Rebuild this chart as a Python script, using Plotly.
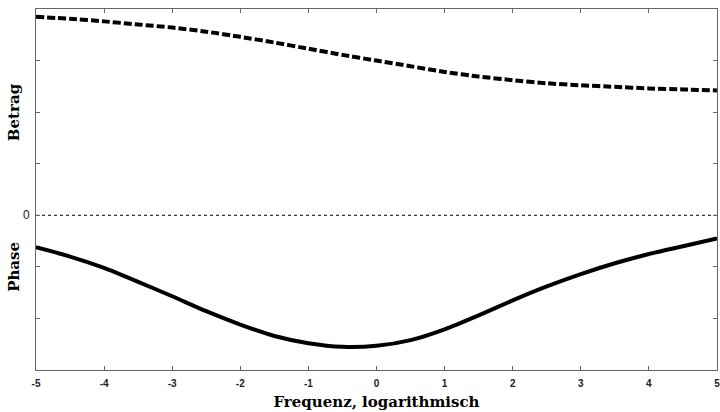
import plotly.graph_objects as go

# Logarithmic frequency axis positions
freq_log = [-5, -4.5, -4, -3.5, -3, -2.5, -2, -1.5, -1, -0.5, 0,
            0.5, 1, 1.5, 2, 2.5, 3, 3.5, 4, 4.5, 5]

# Magnitude (Betrag) curve values
betrag = [3.85, 3.81, 3.76, 3.70, 3.64, 3.56, 3.46, 3.35, 3.23, 3.11, 3.00,
          2.89, 2.78, 2.69, 2.62, 2.56, 2.52, 2.49, 2.46, 2.44, 2.42]

# Phase curve values
phase = [-0.62, -0.80, -1.02, -1.29, -1.57, -1.86, -2.12, -2.34, -2.48, -2.55, -2.53,
         -2.42, -2.21, -1.94, -1.65, -1.38, -1.14, -0.93, -0.75, -0.60, -0.45]

# Zero reference line
zero_x = [-5, 5]
zero_y = [0, 0]

x_ticks = [-5, -4, -3, -2, -1, 0, 1, 2, 3, 4, 5]
x_ticktext = ["-5", "-4", "-3", "-2", "-1", "0", "1", "2", "3", "4", "5"]
y_ticks = [-3, -2, -1, 0, 1, 2, 3, 4]
y_ticktext = ["", "", "", "0", "", "", "", ""]

fig = go.Figure()

fig.add_trace(go.Scatter(
    x=zero_x, y=zero_y, mode="lines",
    line=dict(color="black", width=1, dash="dot"),
    hoverinfo="skip",
))
fig.add_trace(go.Scatter(
    x=freq_log, y=betrag, mode="lines",
    line=dict(color="black", width=4, dash="8px,3px", shape="spline", smoothing=0.6),
))
fig.add_trace(go.Scatter(
    x=freq_log, y=phase, mode="lines",
    line=dict(color="black", width=4, shape="spline", smoothing=0.6),
))

axis_common = dict(
    showline=True, linecolor="#666666", linewidth=1, mirror="ticks",
    ticks="inside", ticklen=4, tickcolor="#666666",
    showgrid=False, zeroline=False,
)

fig.update_xaxes(
    range=[-5, 5], tickvals=x_ticks, ticktext=x_ticktext,
    ticklabeloverflow="allow", ticklabelstandoff=4,
    tickfont=dict(family="Liberation Sans", size=10, color="#222222", weight="bold"),
    title=dict(text="Frequenz, logarithmisch", standoff=8,
               font=dict(family="DejaVu Serif", size=15, color="black", weight="bold")),
    **axis_common,
)
fig.update_yaxes(
    range=[-3, 4], tickvals=y_ticks, ticktext=y_ticktext,
    ticklabelstandoff=3,
    tickfont=dict(family="Liberation Sans", size=12, color="#222222"),
    **axis_common,
)

label_font = dict(family="DejaVu Serif", size=15, color="black", weight="bold")
fig.add_annotation(x=0, xref="paper", y=2, yref="y", text="Betrag",
                   textangle=-90, showarrow=False, xanchor="center",
                   xshift=-22, font=label_font)
fig.add_annotation(x=0, xref="paper", y=-1, yref="y", text="Phase",
                   textangle=-90, showarrow=False, xanchor="center",
                   xshift=-22, font=label_font)

fig.update_layout(
    width=720, height=412,
    margin=dict(l=36, r=0, t=9, b=42),
    plot_bgcolor="white", paper_bgcolor="white",
    showlegend=False,
)

fig.write_html("out.html")
